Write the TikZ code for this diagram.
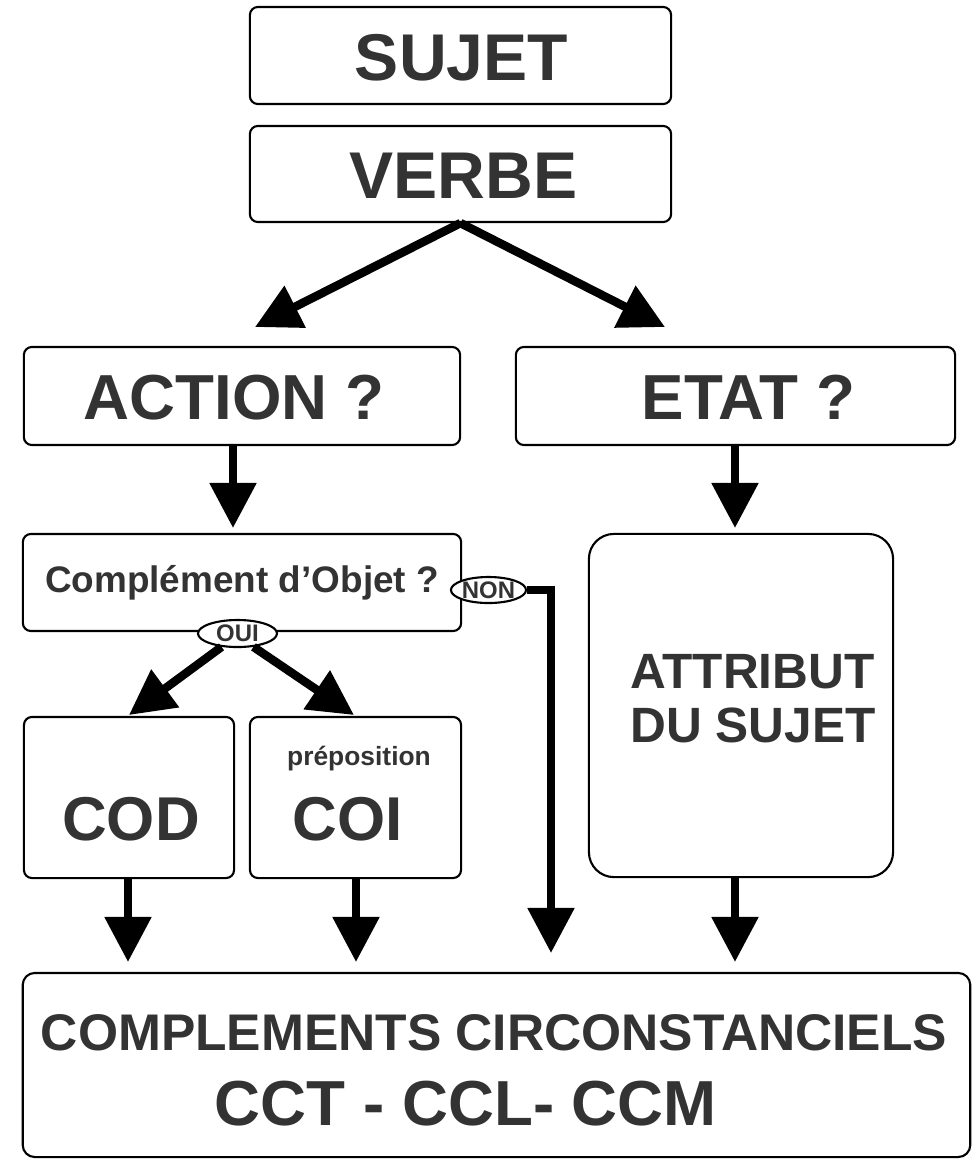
\documentclass[tikz,border=0pt]{standalone}
\usepackage{fontspec}
\setmainfont{Liberation Sans}
\usetikzlibrary{arrows.meta,shapes.geometric,positioning}
\newcommand{\fsz}[2]{\fontsize{#1}{#2}\selectfont\bfseries}

\begin{document}
\begin{tikzpicture}[
    x=0.01cm, y=-0.01cm,
    box/.style={draw, rounded corners=0.08cm, line width=0.6pt, inner sep=0pt},
    word/.style={anchor=base, inner sep=0pt, text=black!80},
    tag/.style={draw, ellipse, inner sep=0pt, line width=0.6pt, fill=white,
        text=black!80, font=\fsz{6.8pt}{7pt}},
    flow/.style={line width=0.085cm, -{Triangle[length=0.45cm,width=0.45cm]}},
 ]
    \useasboundingbox (0,0) rectangle (978,1159);

    % boites
    \node[box, minimum width=4.21cm, minimum height=0.97cm] (S) at (460.5,55.5) {};
    \node[box, minimum width=4.21cm, minimum height=0.96cm] (V) at (460.5,174) {};
    \node[box, minimum width=4.36cm, minimum height=0.98cm] (A) at (242,396) {};
    \node[box, minimum width=4.39cm, minimum height=0.98cm] (E) at (735.5,396) {};
    \node[box, minimum width=4.38cm, minimum height=0.97cm] (CO) at (242,582.5) {};
    \node[box, minimum width=2.10cm, minimum height=1.61cm] (COD) at (129,797.5) {};
    \node[box, minimum width=2.11cm, minimum height=1.61cm] (COI) at (355.5,797.5) {};
    \node[box, rounded corners=0.25cm, minimum width=3.04cm, minimum height=3.43cm]
        (ATT) at (741,705.5) {};
    \node[box, rounded corners=0.12cm, minimum width=9.47cm, minimum height=1.84cm]
        (CC) at (496.5,1065) {};

    % textes
    \node[word, font=\fsz{18.8pt}{22pt}] at (461.5,80) {SUJET};
    \node[word, font=\fsz{18.8pt}{22pt}] at (463.5,198) {VERBE};
    \node[word, font=\fsz{18.1pt}{22pt}] at (234,419) {ACTION ?};
    \node[word, font=\fsz{18.1pt}{22pt}] at (748.5,419) {ETAT ?};
    \node[word, font=\fsz{10.5pt}{12pt}] at (242,592) {Complément d’Objet ?};
    \node[word, font=\fsz{7.5pt}{9pt}] at (359,765) {préposition};
    \node[word, font=\fsz{17.6pt}{21pt}] at (131,840) {COD};
    \node[word, font=\fsz{17.6pt}{21pt}] at (348,840) {COI};
    \node[word, font=\fsz{14.1pt}{16pt}] at (752.5,688) {ATTRIBUT};
    \node[word, font=\fsz{14.1pt}{16pt}] at (753,742) {DU SUJET};
    \node[word, font=\fsz{14.65pt}{17pt}] at (494,1050) {COMPLEMENTS CIRCONSTANCIELS};
    \node[word, font=\fsz{18.1pt}{22pt}] at (466,1125) {CCT - CCL- CCM};

    \node[tag, minimum width=0.79cm, minimum height=0.27cm] (OUI) at (237.5,633.5) {OUI};
    \node[tag, minimum width=0.55cm, minimum height=0.26cm] (NON) at (488.5,590) {NON};

    % fleches
    \coordinate (vA) at (255,327);
    \coordinate (vE) at (665,327);
    \coordinate (aC) at (233,528);
    \coordinate (eT) at (735,528);
    \coordinate (oD) at (129,715);
    \coordinate (oI) at (354,715);
    \coordinate (nC) at (551,953);
    \coordinate (dC) at (128,962);
    \coordinate (iC) at (356,962);
    \coordinate (tC) at (735,962);

    \draw[flow] (V.south) -- (vA);
    \draw[flow] (V.south) -- (vE);
    \draw[flow] (A.south -| aC) -- (aC);
    \draw[flow] (E.south -| eT) -- (eT);
    \draw[flow] (OUI.220) -- (oD);
    \draw[flow] (OUI.320) -- (oI);
    \draw[flow] (NON.east) -| (nC);
    \draw[flow] (COD.south -| dC) -- (dC);
    \draw[flow] (COI.south -| iC) -- (iC);
    \draw[flow] (ATT.south -| tC) -- (tC);
\end{tikzpicture}
\end{document}
